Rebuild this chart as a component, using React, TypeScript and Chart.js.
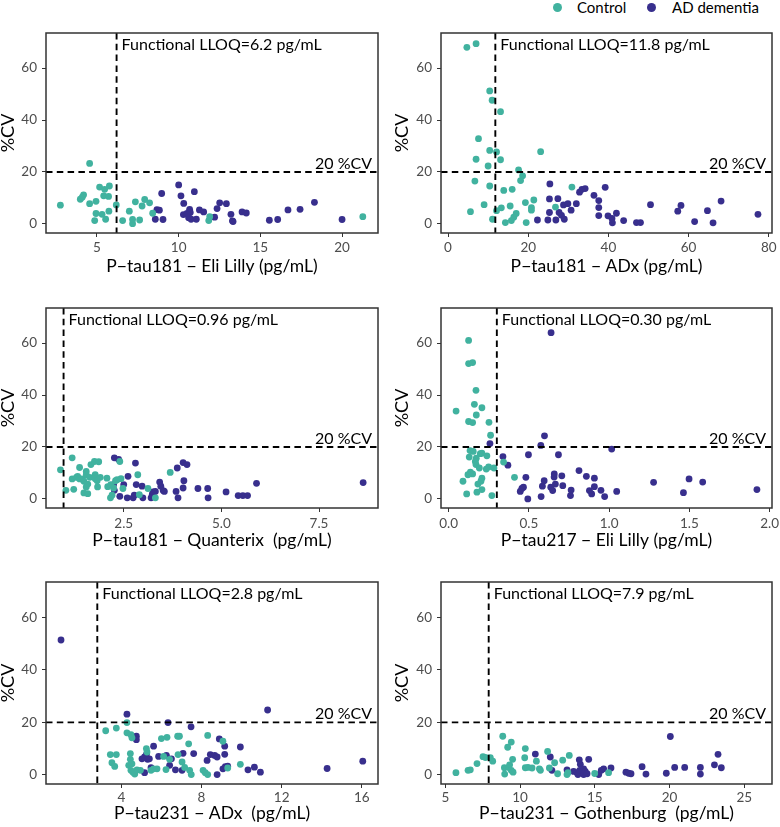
import React, { useEffect, useRef } from 'react';
import { Chart, registerables } from 'chart.js';

Chart.register(...registerables);

type Pt = [number, number];

const TEAL = '#41b29f';
const NAVY = '#382f8d';
const FONT = 'Lato, "Open Sans", sans-serif';

const legendLabels = ['Control', 'AD dementia'];
const yTicks = [0, 20, 40, 60];
const yTickLabels = ['0', '20', '40', '60'];
const yTitle = '%CV';
const cvThreshold = 20;
const cvText = '20 %CV';

// ---------- Panel 1: P-tau181 Eli Lilly ----------
const p1Label = 'P\u2212tau181 \u2212 Eli Lilly (pg/mL)';
const p1Lloq = 6.2;
const p1LloqText = 'Functional LLOQ=6.2 pg/mL';
const p1XTicks = [5, 10, 15, 20];
const p1XTickLabels = ['5', '10', '15', '20'];
const p1Control: Pt[] = [
  [2.76, 7.2], [3.98, 9.5], [4.18, 11.2], [4.1, 10.3], [4.55, 23.3], [4.55, 7.8], [4.94, 8.7],
  [5.16, 14.2], [5.47, 13.3], [5.76, 14.6], [5.41, 10.8], [5.71, 10.6], [4.94, 4.0], [5.31, 3.7],
  [4.86, 1.3], [5.53, 1.8], [5.73, 4.9], [6.18, 7.3], [6.57, 1.3], [6.98, 4.9], [7.18, 0.1],
  [7.18, 1.7], [7.35, 8.5], [7.61, 1.5], [7.76, 6.9], [7.92, 9.4], [8.22, 8.1], [8.41, 4.1],
  [11.84, 1.3], [11.9, 2.8], [21.27, 2.8],
];
const p1AD: Pt[] = [
  [8.67, 5.5], [8.82, 5.3], [8.57, 1.8], [8.96, 11.7], [9.04, 1.7], [10.0, 15.0], [10.14, 10.8],
  [10.31, 7.9], [10.29, 3.6], [10.51, 4.0], [10.67, 5.6], [10.71, 4.4], [10.61, 2.4], [10.76, 1.8],
  [10.96, 12.4], [11.08, 1.8], [11.27, 5.4], [11.53, 4.6], [12.2, 2.6], [12.35, 5.9], [12.51, 8.1],
  [12.92, 7.8], [13.2, 3.7], [13.29, 1.2], [13.33, 0.9], [13.88, 4.6], [14.14, 4.2], [15.55, 1.4],
  [16.06, 1.7], [16.69, 5.4], [17.43, 5.6], [18.31, 8.3], [20.0, 1.7],
];

// ---------- Panel 2: P-tau181 ADx ----------
const p2Label = 'P\u2212tau181 \u2212 ADx (pg/mL)';
const p2Lloq = 11.8;
const p2LloqText = 'Functional LLOQ=11.8 pg/mL';
const p2XTicks = [0, 20, 40, 60, 80];
const p2XTickLabels = ['0', '20', '40', '60', '80'];
const p2Control: Pt[] = [
  [4.7, 68.0], [7.0, 69.4], [10.4, 51.2], [11.0, 47.6], [13.1, 43.2], [7.6, 32.8], [7.0, 24.9],
  [10.4, 28.3], [12.1, 27.7], [10.0, 22.3], [13.1, 24.7], [23.1, 27.8], [6.7, 16.5], [10.4, 14.6],
  [17.6, 20.8], [18.1, 16.7], [18.6, 18.5], [13.9, 12.9], [16.0, 13.3], [5.6, 4.7], [9.0, 7.4],
  [11.1, 1.8], [12.1, 5.1], [13.3, 6.2], [14.3, 0.5], [15.5, 6.9], [15.8, 1.3], [16.4, 2.6],
  [17.0, 4.0], [19.3, 8.2], [19.5, 0.5], [20.8, 6.3], [20.8, 5.3], [21.4, 9.2], [26.8, 6.5],
  [30.9, 14.2],
];
const p2AD: Pt[] = [
  [22.3, 1.5], [24.9, 1.5], [25.4, 15.4], [25.3, 9.6], [25.3, 4.4], [26.9, 1.5], [27.4, 9.7],
  [27.7, 4.4], [28.3, 3.3], [28.8, 7.3], [29.0, 1.8], [29.9, 7.8], [30.7, 5.3], [32.0, 7.8],
  [32.8, 12.2], [33.4, 13.3], [34.2, 13.6], [36.4, 11.0], [37.6, 9.0], [37.6, 6.3], [37.6, 3.2],
  [39.2, 14.1], [39.9, 3.1], [40.9, 2.1], [41.0, 0.4], [42.0, 4.1], [43.8, 1.3], [47.0, 0.5],
  [48.0, 0.5], [50.5, 7.4], [57.3, 4.9], [58.1, 7.1], [61.5, 0.9], [64.7, 5.1], [66.1, 0.4],
  [68.1, 8.8], [77.3, 3.7],
];

// ---------- Panel 3: P-tau181 Quanterix ----------
const p3Label = 'P\u2212tau181 \u2212 Quanterix  (pg/mL)';
const p3Lloq = 0.96;
const p3LloqText = 'Functional LLOQ=0.96 pg/mL';
const p3XTicks = [2.5, 5.0, 7.5];
const p3XTickLabels = ['2.5', '5.0', '7.5'];
const p3Control: Pt[] = [
  [0.88, 11.2], [1.02, 3.3], [1.18, 15.8], [1.18, 7.7], [1.22, 3.7], [1.29, 8.3], [1.32, 8.7],
  [1.37, 12.1], [1.37, 7.7], [1.43, 7.7], [1.48, 6.8], [1.48, 2.3], [1.54, 9.3], [1.54, 10.6],
  [1.58, 2.0], [1.54, 4.6], [1.58, 5.7], [1.63, 8.3], [1.66, 13.2], [1.75, 14.4], [1.77, 9.3],
  [1.77, 7.8], [1.82, 7.0], [1.83, 4.6], [1.86, 14.3], [1.9, 8.3], [2.07, 8.0], [2.09, 4.7],
  [2.16, 0.4], [2.17, 5.5], [2.2, 1.4], [2.24, 4.2], [2.29, 7.0], [2.33, 7.4], [2.4, 14.4],
  [2.43, 7.8], [2.48, 4.0], [2.86, 9.3], [2.9, 1.6], [3.12, 4.0], [3.31, 0.4], [3.69, 10.2],
];
const p3AD: Pt[] = [
  [2.26, 15.8], [2.37, 15.2], [2.24, 5.5], [2.26, 3.3], [2.4, 1.0], [2.5, 5.5], [2.59, 0.4],
  [2.61, 8.7], [2.74, 0.4], [2.77, 1.4], [2.8, 13.8], [2.82, 5.5], [2.97, 4.9], [2.99, 0.4],
  [3.2, 0.4], [3.23, 1.7], [3.25, 2.7], [3.31, 2.9], [3.42, 6.5], [3.45, 4.9], [3.51, 3.2],
  [3.54, 2.9], [3.87, 11.9], [3.84, 2.9], [3.89, 0.4], [4.02, 14.0], [4.04, 7.0], [4.02, 4.2],
  [4.12, 13.2], [4.4, 4.0], [4.65, 4.0], [4.66, 0.4], [5.12, 2.7], [5.43, 1.3], [5.55, 1.3],
  [5.67, 1.3], [5.9, 6.0], [8.63, 6.3],
];

// ---------- Panel 4: P-tau217 Eli Lilly ----------
const p4Label = 'P\u2212tau217 \u2212 Eli Lilly (pg/mL)';
const p4Lloq = 0.3;
const p4LloqText = 'Functional LLOQ=0.30 pg/mL';
const p4XTicks = [0, 0.5, 1.0, 1.5, 2.0];
const p4XTickLabels = ['0.0', '0.5', '1.0', '1.5', '2.0'];
const p4Control: Pt[] = [
  [0.046, 33.8], [0.124, 61.0], [0.124, 52.1], [0.149, 52.5], [0.17, 41.8], [0.16, 36.4],
  [0.172, 32.3], [0.207, 35.1], [0.124, 29.8], [0.149, 29.4], [0.251, 29.5], [0.261, 24.5],
  [0.133, 18.6], [0.153, 18.3], [0.128, 16.1], [0.172, 15.7], [0.197, 17.4], [0.207, 17.6],
  [0.238, 16.6], [0.166, 14.4], [0.17, 13.2], [0.149, 9.6], [0.135, 10.3], [0.12, 9.3],
  [0.191, 11.9], [0.234, 11.5], [0.249, 12.3], [0.282, 11.9], [0.342, 14.2], [0.207, 8.0],
  [0.201, 6.8], [0.182, 5.7], [0.089, 6.8], [0.112, 1.9], [0.176, 2.6], [0.207, 3.6],
  [0.269, 1.3], [0.41, 8.3],
];
const p4AD: Pt[] = [
  [0.257, 21.3], [0.338, 16.3], [0.369, 13.0], [0.497, 17.0], [0.574, 20.6], [0.597, 24.3],
  [0.638, 64.0], [0.684, 17.0], [0.481, 8.3], [0.446, 2.9], [0.456, 4.0], [0.466, 4.5],
  [0.493, 0.0], [0.576, 0.9], [0.584, 4.9], [0.595, 7.0], [0.636, 4.5], [0.648, 3.2],
  [0.658, 9.6], [0.657, 8.4], [0.665, 5.7], [0.705, 8.9], [0.711, 5.1], [0.763, 3.4],
  [0.759, 1.3], [0.812, 10.9], [0.858, 8.7], [0.877, 3.2], [0.891, 1.9], [0.908, 8.0],
  [0.908, 4.7], [0.949, 3.3], [0.972, 0.9], [1.016, 19.2], [1.047, 2.9], [1.277, 6.4],
  [1.463, 2.4], [1.498, 7.7], [1.583, 6.5], [1.921, 3.6],
];

// ---------- Panel 5: P-tau231 ADx ----------
const p5Label = 'P\u2212tau231 \u2212 ADx  (pg/mL)';
const p5Lloq = 2.8;
const p5LloqText = 'Functional LLOQ=2.8 pg/mL';
const p5XTicks = [4, 8, 12, 16];
const p5XTickLabels = ['4', '8', '12', '16'];
const p5Control: Pt[] = [
  [3.22, 16.8], [3.75, 17.8], [4.28, 19.9], [4.28, 16.0], [4.48, 15.3], [4.53, 14.1], [3.45, 7.7],
  [3.75, 7.7], [3.53, 4.6], [3.67, 3.2], [4.37, 3.6], [4.45, 8.1], [4.45, 5.9], [4.53, 4.2],
  [4.48, 1.7], [4.58, 1.0], [4.67, 0.3], [4.78, 1.9], [4.95, 1.7], [5.25, 10.0], [5.28, 8.7],
  [5.48, 1.7], [5.61, 2.3], [5.78, 2.3], [6.0, 13.8], [6.11, 7.0], [6.28, 14.3], [6.23, 2.0],
  [6.41, 5.9], [6.81, 14.7], [6.9, 14.7], [6.83, 7.7], [7.03, 4.9], [7.16, 2.8], [7.36, 11.8],
  [7.41, 1.7], [7.49, 0.1], [8.08, 1.7], [8.19, 0.8], [8.31, 15.0], [8.31, 0.1], [9.07, 12.8],
  [9.31, 2.6], [9.94, 4.0],
];
const p5AD: Pt[] = [
  [0.99, 51.4], [4.28, 23.1], [4.75, 14.7], [4.75, 13.4], [5.61, 10.9], [6.33, 19.9], [7.48, 18.3],
  [8.89, 13.7], [9.16, 10.9], [9.16, 7.8], [9.94, 10.6], [5.03, 6.1], [5.16, 6.8], [5.25, 7.7],
  [5.31, 5.9], [5.4, 6.1], [5.48, 2.7], [5.16, 0.8], [5.86, 7.0], [6.25, 7.4], [6.41, 3.6],
  [6.5, 6.1], [6.7, 1.9], [7.03, 1.7], [7.08, 8.2], [7.61, 8.1], [8.28, 5.5], [8.44, 7.7],
  [8.66, 7.4], [8.78, 6.8], [8.78, 0.1], [9.07, 2.3], [9.19, 3.1], [9.31, 3.3], [10.32, 1.9],
  [10.64, 2.9], [10.94, 1.0], [11.3, 24.7], [14.27, 2.4], [16.05, 5.2],
];

// ---------- Panel 6: P-tau231 Gothenburg ----------
const p6Label = 'P\u2212tau231 \u2212 Gothenburg  (pg/mL)';
const p6Lloq = 7.9;
const p6LloqText = 'Functional LLOQ=7.9 pg/mL';
const p6XTicks = [5, 10, 15, 20, 25];
const p6XTickLabels = ['5', '10', '15', '20', '25'];
const p6Control: Pt[] = [
  [5.71, 0.8], [6.52, 1.7], [6.67, 1.9], [7.12, 4.3], [7.52, 6.9], [7.68, 6.6], [8.01, 6.5],
  [8.17, 5.2], [8.84, 14.7], [9.17, 10.5], [9.41, 12.5], [9.5, 5.9], [8.95, 2.7], [8.97, 0.3],
  [9.24, 2.8], [9.3, 3.8], [9.41, 1.7], [9.53, 1.0], [10.35, 10.0], [10.31, 6.5], [10.35, 2.7],
  [10.53, 2.8], [10.8, 2.6], [11.09, 5.2], [11.29, 2.3], [11.36, 1.7], [11.84, 8.9], [11.96, 2.6],
  [12.31, 4.6], [12.51, 0.4], [12.85, 5.6], [13.29, 7.4], [13.14, 0.1], [13.2, 0.8], [14.99, 0.5],
  [15.92, 0.8],
];
const p6AD: Pt[] = [
  [11.02, 7.9], [12.02, 6.8], [12.13, 1.7], [13.14, 1.9], [13.96, 5.7], [14.03, 4.0], [13.58, 1.3],
  [13.81, 0.8], [13.87, 0.1], [13.99, 1.7], [14.25, 2.3], [14.25, 0.1], [14.36, 1.3], [14.48, 0.4],
  [14.59, 5.9], [15.26, 0.1], [15.43, 1.7], [15.59, 2.3], [16.08, 2.6], [17.08, 1.0], [17.26, 0.6],
  [17.42, 0.4], [18.16, 3.1], [18.42, 0.3], [19.78, 0.6], [20.05, 14.6], [20.34, 2.8], [21.01, 2.8],
  [22.06, 2.8], [22.06, 0.3], [23.0, 3.8], [23.24, 7.8], [23.46, 2.7],
];

// ---------- layout ----------
interface PanelCfg {
  xLabel: string;
  lloq: number;
  lloqText: string;
  xTicks: number[];
  xTickLabels: string[];
  control: Pt[];
  ad: Pt[];
  xMin: number;
  xMax: number;
  left: number;
  top: number;
  width: number;
  height: number;
  padTop: number;
  padRight: number;
  yAxisW: number;
  yTitlePad: number;
  tickPad: number;
  titlePad: number;
}

const X_AXIS_H = 45;
const colL = { left: 0, width: 385, padRight: 7, yAxisW: 46, yTitlePad: -1 };
const colR = { left: 385, width: 395, padRight: 8, yAxisW: 56, yTitlePad: 8 };
const row1 = { top: 20, padTop: 13, height: 13 + 200 + X_AXIS_H, tickPad: 2.6, titlePad: 3.3 };
const row2 = { top: 285, padTop: 23, height: 23 + 200 + X_AXIS_H, tickPad: 3.6, titlePad: 3.9 };
const row3 = { top: 555, padTop: 27, height: 27 + 202 + X_AXIS_H, tickPad: 1.2, titlePad: 7.0 };

const panels: PanelCfg[] = [
  { xLabel: p1Label, lloq: p1Lloq, lloqText: p1LloqText, xTicks: p1XTicks, xTickLabels: p1XTickLabels,
    control: p1Control, ad: p1AD, xMin: 1.88, xMax: 22.2, ...colL, ...row1 },
  { xLabel: p2Label, lloq: p2Lloq, lloqText: p2LloqText, xTicks: p2XTicks, xTickLabels: p2XTickLabels,
    control: p2Control, ad: p2AD, xMin: -1.75, xMax: 80.8, ...colR, ...row1 },
  { xLabel: p3Label, lloq: p3Lloq, lloqText: p3LloqText, xTicks: p3XTicks, xTickLabels: p3XTickLabels,
    control: p3Control, ad: p3AD, xMin: 0.51, xMax: 9.01, ...colL, ...row2 },
  { xLabel: p4Label, lloq: p4Lloq, lloqText: p4LloqText, xTicks: p4XTicks, xTickLabels: p4XTickLabels,
    control: p4Control, ad: p4AD, xMin: -0.048, xMax: 2.015, ...colR, ...row2 },
  { xLabel: p5Label, lloq: p5Lloq, lloqText: p5LloqText, xTicks: p5XTicks, xTickLabels: p5XTickLabels,
    control: p5Control, ad: p5AD, xMin: 0.24, xMax: 16.81, ...colL, ...row3 },
  { xLabel: p6Label, lloq: p6Lloq, lloqText: p6LloqText, xTicks: p6XTicks, xTickLabels: p6XTickLabels,
    control: p6Control, ad: p6AD, xMin: 4.71, xMax: 26.85, ...colR, ...row3 },
];

function Panel({ cfg }: { cfg: PanelCfg }) {
  const ref = useRef<HTMLCanvasElement | null>(null);
  useEffect(() => {
    if (!ref.current) return;
    const overlay = {
      id: 'overlay',
      afterDatasetsDraw(chart: any) {
        const { ctx, chartArea: a, scales } = chart;
        const x = scales.x.getPixelForValue(cfg.lloq);
        const y = scales.y.getPixelForValue(cvThreshold);
        ctx.save();
        ctx.strokeStyle = '#000';
        ctx.lineWidth = 1.9;
        ctx.setLineDash([6.5, 4.3]);
        ctx.beginPath();
        ctx.moveTo(x, a.top);
        ctx.lineTo(x, a.bottom);
        ctx.moveTo(a.left, y);
        ctx.lineTo(a.right, y);
        ctx.stroke();
        ctx.setLineDash([]);
        ctx.fillStyle = '#000';
        ctx.font = `16px ${FONT}`;
        ctx.textBaseline = 'middle';
        ctx.textAlign = 'left';
        ctx.fillText(cfg.lloqText, x + 5, scales.y.getPixelForValue(68.8));
        ctx.textAlign = 'right';
        ctx.fillText(cvText, a.right - 6, scales.y.getPixelForValue(23.3));
        ctx.strokeStyle = '#333';
        ctx.lineWidth = 1.5;
        ctx.strokeRect(a.left, a.top, a.right - a.left, a.bottom - a.top);
        ctx.restore();
      },
    };
    const tickFont = { family: FONT, size: 13.5 };
    const titleFont = { family: FONT, size: 17.5, lineHeight: 1 };
    const chart = new Chart(ref.current, {
      type: 'scatter',
      data: {
        datasets: [
          {
            label: legendLabels[0],
            data: cfg.control.map(([x, y]) => ({ x, y })),
            backgroundColor: TEAL,
            borderWidth: 0,
            pointRadius: 3.4,
            pointHoverRadius: 3.4,
          },
          {
            label: legendLabels[1],
            data: cfg.ad.map(([x, y]) => ({ x, y })),
            backgroundColor: NAVY,
            borderWidth: 0,
            pointRadius: 3.4,
            pointHoverRadius: 3.4,
          },
        ],
      },
      options: {
        responsive: false,
        animation: false,
        devicePixelRatio: 1,
        events: [],
        layout: { padding: { top: cfg.padTop, right: cfg.padRight, left: 0, bottom: 0 } },
        plugins: { legend: { display: false }, tooltip: { enabled: false } },
        scales: {
          x: {
            type: 'linear',
            min: cfg.xMin,
            max: cfg.xMax,
            afterBuildTicks: (s: any) => {
              s.ticks = cfg.xTicks.map((v) => ({ value: v }));
            },
            afterFit: (s: any) => {
              s.height = X_AXIS_H;
              s.paddingLeft = 0;
              s.paddingRight = 0;
            },
            ticks: {
              callback: (_v: any, i: number) => cfg.xTickLabels[i],
              color: '#4d4d4d',
              font: tickFont,
              padding: cfg.tickPad,
              maxRotation: 0,
              autoSkip: false,
            },
            grid: { drawOnChartArea: false, drawTicks: true, tickLength: 4, color: '#333' },
            border: { display: false },
            title: { display: true, text: cfg.xLabel, color: '#000', font: titleFont, padding: { top: 0, bottom: cfg.titlePad } },
          },
          y: {
            type: 'linear',
            min: -3.5,
            max: 73.5,
            afterBuildTicks: (s: any) => {
              s.ticks = yTicks.map((v) => ({ value: v }));
            },
            afterFit: (s: any) => {
              s.width = cfg.yAxisW;
              s.paddingTop = 0;
              s.paddingBottom = 0;
            },
            ticks: {
              callback: (_v: any, i: number) => yTickLabels[i],
              color: '#4d4d4d',
              font: tickFont,
              padding: 5,
              autoSkip: false,
            },
            grid: { drawOnChartArea: false, drawTicks: true, tickLength: 4, color: '#333' },
            border: { display: false },
            title: { display: true, text: yTitle, color: '#000', font: { family: FONT, size: 18, lineHeight: 1 }, padding: { top: cfg.yTitlePad, bottom: 0 } },
          },
        },
      },
      plugins: [overlay],
    } as any);
    return () => chart.destroy();
  }, [cfg]);
  return (
    <canvas
      ref={ref}
      width={cfg.width}
      height={cfg.height}
      style={{ position: 'absolute', left: cfg.left, top: cfg.top, width: cfg.width, height: cfg.height }}
    />
  );
}

export default function App() {
  const dot = (color: string, cx: number) => (
    <div
      style={{
        position: 'absolute',
        left: cx - 4.5,
        top: 7 - 4.5,
        width: 9,
        height: 9,
        borderRadius: '50%',
        background: color,
      }}
    />
  );
  const label = (text: string, x: number) => (
    <div
      style={{
        position: 'absolute',
        left: x,
        top: 0,
        height: 14,
        lineHeight: '14px',
        fontFamily: FONT,
        fontSize: 15,
        color: '#000',
        whiteSpace: 'nowrap',
      }}
    >
      {text}
    </div>
  );
  return (
    <div
      style={{
        position: 'absolute',
        left: 0,
        top: 0,
        width: 780,
        height: 827,
        overflow: 'hidden',
        background: '#fff',
      }}
    >
      {dot(TEAL, 557)}
      {label(legendLabels[0], 577)}
      {dot(NAVY, 651)}
      {label(legendLabels[1], 672)}
      {panels.map((p, i) => (
        <Panel key={i} cfg={p} />
      ))}
    </div>
  );
}
